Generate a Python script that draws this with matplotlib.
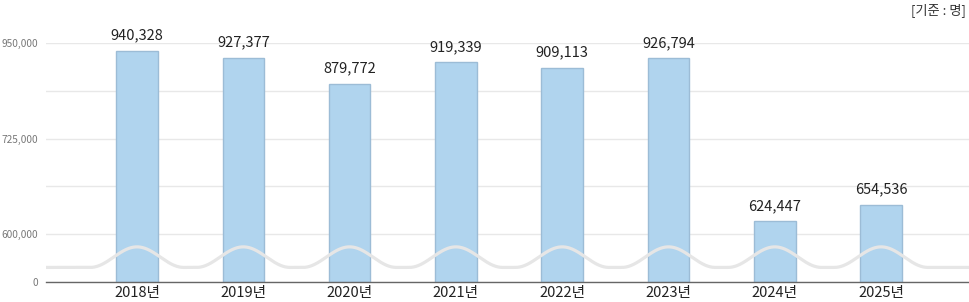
import numpy as np
import matplotlib
matplotlib.use("Agg")
import matplotlib.pyplot as plt
import matplotlib.transforms as mtransforms

plt.rcParams['font.family'] = ['Noto Sans CJK KR', 'DejaVu Sans']

categories = ["2018년", "2019년", "2020년", "2021년", "2022년", "2023년", "2024년", "2025년"]
values = [940328, 927377, 879772, 919339, 909113, 926794, 624447, 654536]
ytick_labels = ["0", "600,000", "", "725,000", "", "950,000"]
unit_label = "[기준 : 명]"

fig = plt.figure(figsize=(9.70, 3.02), dpi=100)
ax = fig.add_axes([46/970, 20/302, 924/970, 239/302])

x = np.arange(len(categories))
ymin, ymax = 511800, 955200
ax.set_ylim(ymin, ymax)
ax.set_xlim(-0.856, 7.836)

bars = ax.bar(x, [v - ymin for v in values], bottom=ymin, width=0.39,
              color="#b0d4ee", edgecolor="#9cbcd6", linewidth=1.0, zorder=2)

for xi, v in zip(x, values):
    ax.annotate(f"{v:,}", (xi, v), xytext=(0, 6), textcoords="offset points",
                ha="center", va="bottom", fontsize=10.5, color="#222222", zorder=4)

# decorative wave (axis break symbol)
trans = mtransforms.blended_transform_factory(ax.transData, ax.transAxes)
xs = np.linspace(-0.856, 7.836, 2000)
bump = np.zeros_like(xs)
for c in x:
    d = np.abs(xs - c)
    m = d < 0.44
    bump[m] = np.maximum(bump[m], np.cos(d[m] / 0.44 * np.pi / 2) ** 2)
ax.plot(xs, 0.061 + 0.086 * bump, color="#e6e6e6", lw=2.3, transform=trans,
        zorder=3, solid_capstyle="butt")

ticks = np.linspace(ymin, ymax, 6)
ax.set_yticks(ticks)
ax.set_yticklabels(ytick_labels, fontsize=7.3, color="#777777")
ax.yaxis.grid(True, color="#e8e8e8", lw=1.0, zorder=0)
ax.set_axisbelow(True)
ax.tick_params(axis="y", length=0, pad=5.5)
ax.set_xticks(x)
ax.set_xticklabels(categories, fontsize=10.5, color="#222222")
ax.tick_params(axis="x", length=0, pad=3)

for s in ["left", "right", "top"]:
    ax.spines[s].set_visible(False)
ax.spines["bottom"].set_color("#666666")
ax.spines["bottom"].set_linewidth(1.0)

fig.text(966/970, 1 - 3/302, unit_label, ha="right", va="top", fontsize=9.5, color="#333333")

fig.savefig("out.png", dpi=100)
